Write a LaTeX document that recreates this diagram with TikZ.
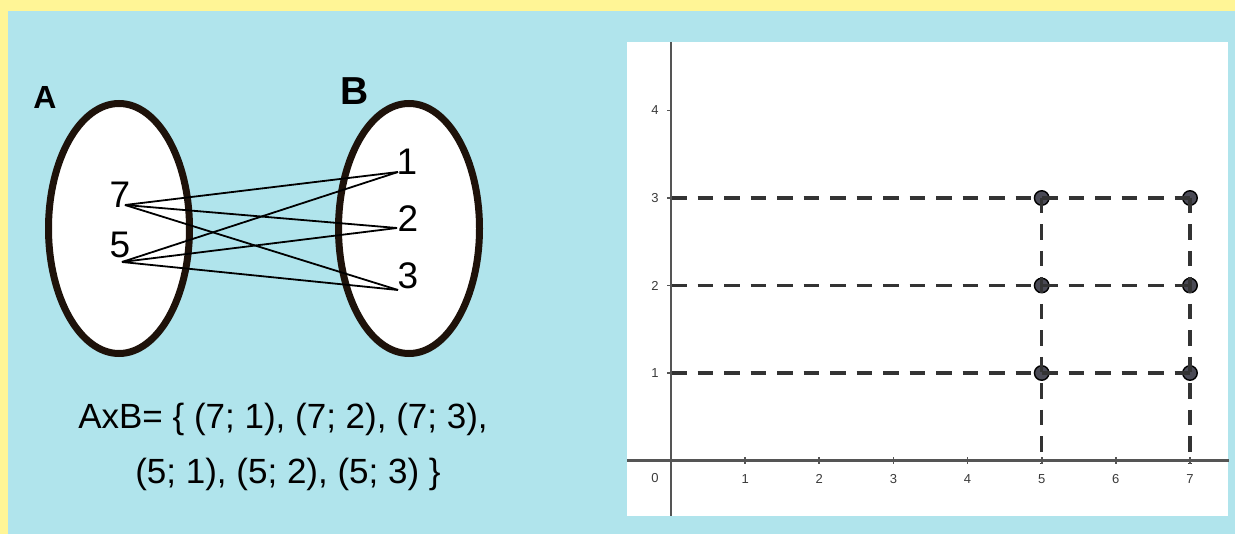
\documentclass[tikz,border=0pt]{standalone}
\usepackage{fontspec}
\setmainfont{Liberation Sans}
\usetikzlibrary{shapes.geometric}
\definecolor{bgblue}{HTML}{B0E4EC}
\definecolor{frameyellow}{HTML}{FFF596}
\definecolor{ellline}{HTML}{1E120A}
\definecolor{dotfill}{HTML}{4A4A55}
\definecolor{dashgray}{HTML}{333333}
\definecolor{axisgray}{HTML}{555555}
\definecolor{labgray}{HTML}{3A3A3A}
\begin{document}
\begin{tikzpicture}[x=1pt,y=-1pt,
  setell/.style={ellipse, draw=ellline, fill=white, line width=7pt, minimum width=141pt, minimum height=250pt, inner sep=0pt},
  elem/.style={inner sep=0pt, font=\fontsize{37}{40}\selectfont},
  pairline/.style={black, line width=1.8pt},
  dashline/.style={dashgray, line width=3.2pt, dash pattern=on 15.5pt off 11pt},
  dotnode/.style={circle, fill=dotfill, draw=black, line width=1.4pt, minimum size=14.5pt, inner sep=0pt},
  axlab/.style={inner sep=0pt, text=labgray, font=\fontsize{13}{14}\selectfont},
  axisline/.style={axisgray, line width=2.2pt}
]
\useasboundingbox (0,0) rectangle (1235,534);
\fill[frameyellow] (0,0) rectangle (1235,534);
\fill[bgblue] (8,11) rectangle (1235,534);
\fill[white] (627,42) rectangle (1228,516);

% ---- left: sets ----
\node[setell] (A) at (119,228.5) {};
\node[setell] (B) at (409,228.5) {};
\node[inner sep=0pt, font=\bfseries\fontsize{32}{34}\selectfont] (labA) at (45,97) {A};
\node[inner sep=0pt, font=\bfseries\fontsize{39}{42}\selectfont] (labB) at (355,91) {B};
\node[elem] (n7) at (120,195) {7};
\node[elem] (n5) at (120,245) {5};
\node[elem] (n1) at (407,162) {1};
\node[elem] (n2) at (408,219) {2};
\node[elem] (n3) at (408,276) {3};
\coordinate (e7) at (125,205);
\coordinate (e5) at (122,262);
\coordinate (e1) at (398,172);
\coordinate (e2) at (397,228);
\coordinate (e3) at (398,290);
\draw[pairline] (e7) -- (e1);
\draw[pairline] (e7) -- (e2);
\draw[pairline] (e7) -- (e3);
\draw[pairline] (e5) -- (e1);
\draw[pairline] (e5) -- (e2);
\draw[pairline] (e5) -- (e3);
\node[anchor=base, inner sep=0pt, font=\fontsize{35}{38}\selectfont] (t1) at (283,429) {AxB= \{ (7; 1), (7; 2), (7; 3),};
\node[anchor=base, inner sep=0pt, font=\fontsize{35}{38}\selectfont] (t2) at (288,484) {(5; 1), (5; 2), (5; 3) \}};

% ---- right: graph ----
\begin{scope}[shift={(671,460.5)}, x=74.14pt, y=87.5pt]
  \foreach \j in {1,2,3} {
    \coordinate (y\j) at (0,\j);
    \node[dotnode] (p5\j) at (5,\j) {};
    \node[dotnode] (p7\j) at (7,\j) {};
  }
  \coordinate (x5) at (5,-0.04);
  \coordinate (x7) at (7,-0.04);
  \foreach \j in {1,2,3} {
    \draw[dashline] (y\j) -- (p7\j.center);
  }
  \draw[dashline] (p53.center) -- (x5);
  \draw[dashline] (p73.center) -- (x7);
  % axes
  \coordinate (yt) at (0,4.78);
  \coordinate (yb) at (0,-0.634);
  \coordinate (xl) at (-0.593,0);
  \coordinate (xr) at (7.52,0);
  \draw[axisline] (yb) -- (yt);
  \draw[axisline] (xl) -- (xr);
  \foreach \i in {1,...,7} {
    \draw[axisgray, line width=1.6pt] (\i,0) ++(0,-3.5pt) -- ++(0,7pt);
  }
  \foreach \i in {1,...,7} {
    \node[axlab] (xl\i) at ([yshift=-18.5pt]\i,0) {\i};
  }
  \node[axlab] (xl0) at ([xshift=-16pt,yshift=-17.5pt]0,0) {0};
  \foreach \j in {1,2,3,4} {
    \draw[axisgray, line width=1.6pt] (0,\j) ++(-4pt,0) -- ++(4pt,0);
    \node[axlab] (yl\j) at ([xshift=-16pt]0,\j) {\j};
  }
\end{scope}
\end{tikzpicture}
\end{document}
